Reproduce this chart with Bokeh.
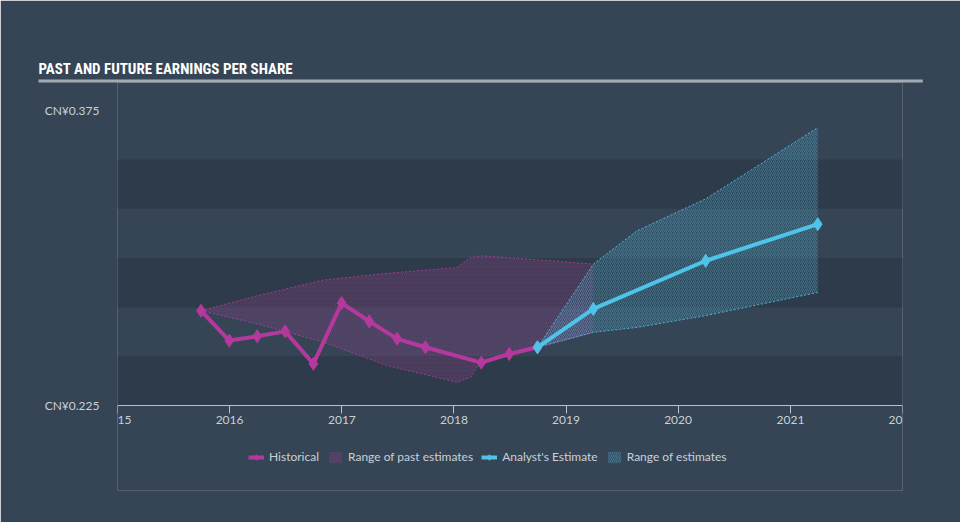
import pandas as pd
from bokeh.plotting import figure
from bokeh.models import (Range1d, FixedTicker, PrintfTickFormatter, Legend, LegendItem,
                          DatetimeTickFormatter, BoxAnnotation, Title)
from bokeh.embed import file_html
from bokeh.resources import INLINE

# ---------------- data ----------------
hist_dates = ["2015-09-30", "2015-12-31", "2016-03-31", "2016-06-30", "2016-09-30",
              "2016-12-31", "2017-03-31", "2017-06-30", "2017-09-30", "2018-03-31",
              "2018-06-30", "2018-09-30"]
hist_eps = [0.2732, 0.2580, 0.2602, 0.2627, 0.2462, 0.2771, 0.2678, 0.2589, 0.2546,
            0.2468, 0.2512, 0.2546]

past_dates = ["2015-09-30", "2016-03-31", "2016-11-02", "2017-05-28", "2018-01-11",
              "2018-02-24", "2018-03-31", "2018-09-30", "2019-03-31"]
past_high = [0.2732, 0.2808, 0.2888, 0.2922, 0.2952, 0.3003, 0.3011, 0.2991, 0.2969]
past_low = [0.2732, 0.2665, 0.2572, 0.2453, 0.2368, 0.2394, 0.2478, 0.2546, 0.2622]

est_dates = ["2018-09-30", "2019-03-31", "2020-03-31", "2021-03-31"]
est_eps = [0.2546, 0.2741, 0.2986, 0.3172]

rng_dates = ["2018-09-30", "2019-03-31", "2019-08-20", "2020-03-31", "2021-03-31"]
rng_high = [0.2546, 0.2969, 0.3138, 0.3301, 0.3663]
rng_low = [0.2546, 0.2622, 0.2647, 0.2707, 0.2825]

year_ticks = ["2015", "2016", "2017", "2018", "2019", "2020", "2021", "2022"]
y_ticks = [0.225, 0.375]
bands = [(0.225, 0.25), (0.275, 0.30), (0.325, 0.35)]

TITLE = "PAST AND FUTURE EARNINGS PER SHARE"

# ---------------- style ----------------
BG = "#354555"
BAND = "#2e3b4a"
MAG = "#b5399c"
CYAN = "#4fc3e8"
TXT = "#c9d0d7"
RULE = "#a3acb5"
FONT = "Lato"
TFONT = "Roboto Condensed, DejaVu Sans Condensed, Liberation Sans Narrow, Liberation Sans"

hd = pd.to_datetime(hist_dates)
pdates = pd.to_datetime(past_dates)
ed = pd.to_datetime(est_dates)
rd = pd.to_datetime(rng_dates)
yt = pd.to_datetime([y + "-01-01" for y in year_ticks])
ms = [t.value / 1e6 for t in yt]

# ---------------- layout (canvas px) ----------------
W, H = 960, 522
FL, FR = 117, 902          # frame left / right
AX_TOP, AX_BOT = 110, 405  # where y_ticks[-1] and y_ticks[0] sit
FT, FB = 82, 490           # frame top / bottom (frame also holds the legend)
k = (y_ticks[-1] - y_ticks[0]) / (AX_BOT - AX_TOP)
y_lo = y_ticks[0] - (FB - AX_BOT) * k
y_hi = y_ticks[-1] + (AX_TOP - FT) * k

p = figure(width=W, height=H, x_axis_type="datetime",
           x_range=Range1d(ms[0], ms[-1]), y_range=Range1d(y_lo, y_hi),
           output_backend="svg", toolbar_location=None,
           min_border_left=FL, min_border_right=W - FR, min_border_top=FT,
           min_border_bottom=H - FB,
           background_fill_color=BG, border_fill_color=BG)
p.outline_line_color = None
p.grid.visible = False

# title (outermost above-panel)
p.title.text = TITLE
p.title.align = "left"
p.title.offset = 38 - FL
p.title.standoff = 0
p.title.text_font = TFONT
p.title.text_font_style = "bold"
p.title.text_font_size = "15px"
p.title.text_color = "#ffffff"

# rule under the title: a blank title box with a filled background
rule = Title(text=" ", align="left", offset=38 - FL, standoff=0,
             text_font_size="1px", text_color=RULE,
             background_fill_color=RULE, padding=(442, 1))
p.add_layout(rule, "above")

# cover frame edges, then the alternating bands
p.add_layout(BoxAnnotation(fill_color=BG, fill_alpha=1.0, line_color=BG, line_width=3,
                           level="underlay"))
for lo, hi in bands:
    p.add_layout(BoxAnnotation(bottom=lo, top=hi, fill_color=BAND, fill_alpha=1.0,
                               line_color=None, level="underlay"))

p.xaxis.fixed_location = y_ticks[0]
p.xaxis.ticker = FixedTicker(ticks=ms)
p.xaxis.formatter = DatetimeTickFormatter(years="%Y", months="%Y", days="%Y")
p.xaxis.axis_line_color = "#b8c2cc"
p.xaxis.major_tick_line_color = "#b8c2cc"
p.xaxis.major_tick_in = 0
p.xaxis.major_tick_out = 8
p.xaxis.minor_tick_line_color = None
p.xaxis.major_label_text_color = TXT
p.xaxis.major_label_text_font = FONT
p.xaxis.major_label_text_font_size = "12px"
p.xaxis.major_label_standoff = 2

p.yaxis.ticker = FixedTicker(ticks=y_ticks)
p.yaxis.formatter = PrintfTickFormatter(format="CN¥%.3f")
p.yaxis.axis_line_color = None
p.yaxis.major_tick_line_color = None
p.yaxis.minor_tick_line_color = None
p.yaxis.major_label_text_color = TXT
p.yaxis.major_label_text_font = FONT
p.yaxis.major_label_text_font_size = "12px"
p.yaxis.major_label_standoff = 12

# past range
past_area = p.varea(x=pdates, y1=past_low, y2=past_high, fill_color=MAG, fill_alpha=0.10,
                    hatch_pattern="/", hatch_color=MAG, hatch_alpha=0.38,
                    hatch_scale=4, hatch_weight=0.8)
p.line(pdates, past_high, line_color=MAG, line_width=1, line_dash="2 2", line_alpha=0.85)
p.line(pdates, past_low, line_color=MAG, line_width=1, line_dash="2 2", line_alpha=0.85)

# future range
fut_area = p.varea(x=rd, y1=rng_low, y2=rng_high, fill_color=CYAN, fill_alpha=0.10,
                   hatch_pattern="/", hatch_color=CYAN, hatch_alpha=0.42,
                   hatch_scale=4, hatch_weight=0.8)
p.line(rd, rng_high, line_color=CYAN, line_width=1, line_dash="2 2", line_alpha=0.85)
p.line(rd, rng_low, line_color=CYAN, line_width=1, line_dash="2 2", line_alpha=0.85)

# historical
h_line = p.line(hd, hist_eps, line_color=MAG, line_width=4)
h_pts = p.scatter(hd, hist_eps, marker="diamond", size=13, fill_color=MAG, line_color=MAG)

# estimate
e_line = p.line(ed, est_eps, line_color=CYAN, line_width=4)
e_pts = p.scatter(ed, est_eps, marker="diamond", size=13, fill_color=CYAN, line_color=CYAN)

legend = Legend(items=[LegendItem(label="Historical", renderers=[h_line, h_pts]),
                       LegendItem(label="Range of past estimates", renderers=[past_area]),
                       LegendItem(label="Analyst's Estimate", renderers=[e_line, e_pts]),
                       LegendItem(label="Range of estimates", renderers=[fut_area])],
                location=(248 - FL, FB - 464), orientation="horizontal",
                label_text_color=TXT, label_text_font=FONT, label_text_font_size="12px",
                glyph_width=16, glyph_height=14, label_standoff=5, spacing=8,
                padding=0, margin=0, background_fill_alpha=0, border_line_alpha=0)
p.add_layout(legend)

open("out.html", "w").write(file_html(p, INLINE))
